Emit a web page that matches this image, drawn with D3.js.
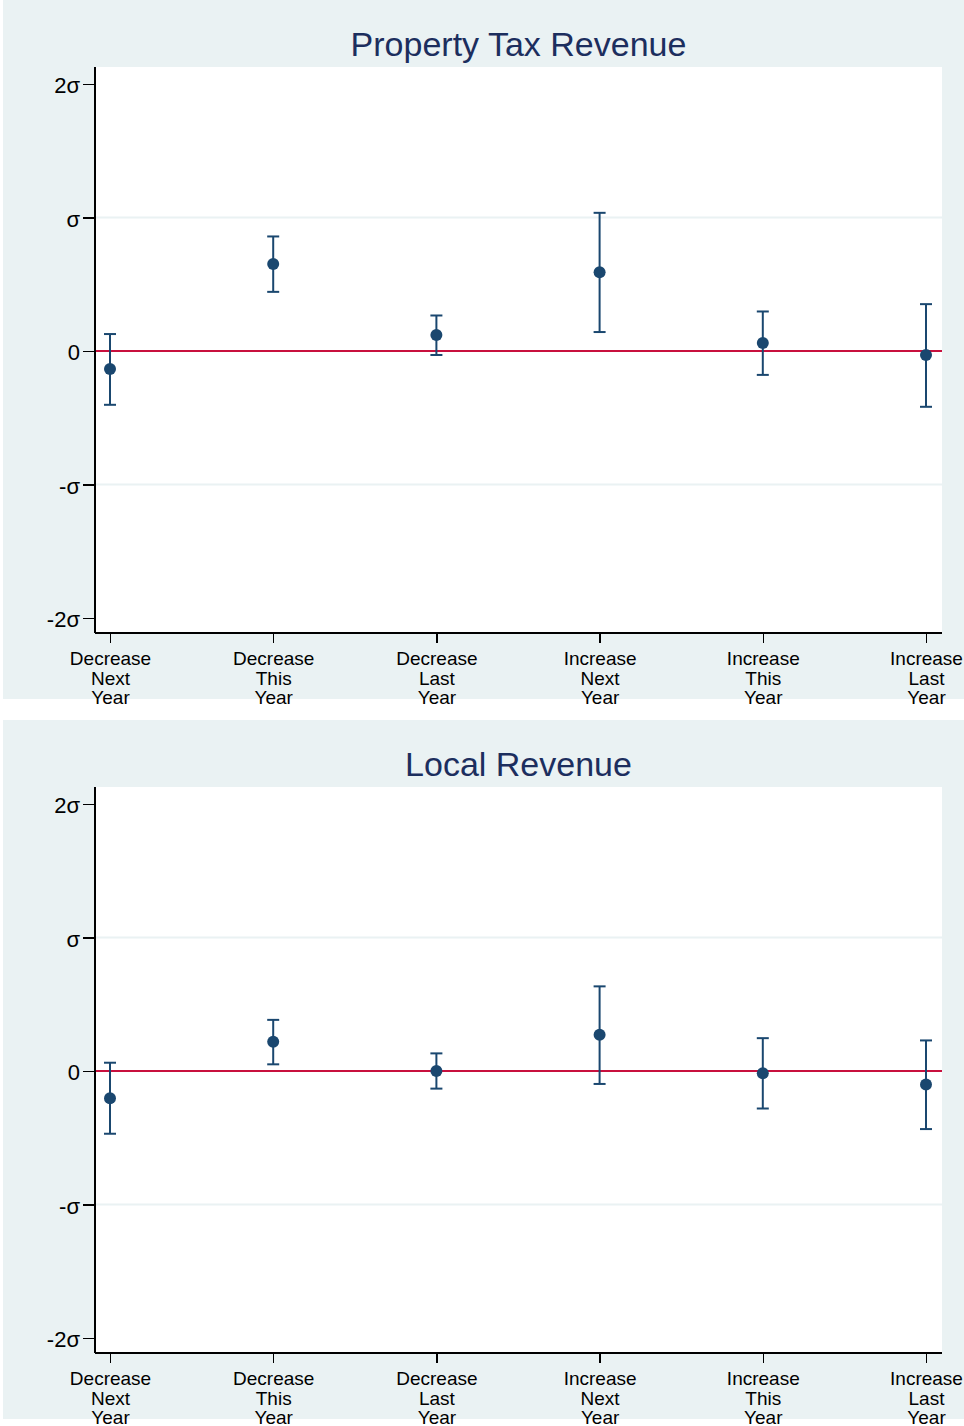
<!DOCTYPE html>
<html lang="en">
<head>
<meta charset="UTF-8">
<title>Property Tax Revenue / Local Revenue</title>
<style>
  body { margin: 0; background: #ffffff; font-family: "Liberation Sans", Arial, Helvetica, sans-serif; }
  svg { display: block; }
  .axis path, .axis line { stroke: #000; stroke-width: 1.5; shape-rendering: crispEdges; }
  .axis text { fill: #000; font-family: "Liberation Sans", Arial, sans-serif; }
</style>
</head>
<body>
<div id="chart"></div>
<script src="https://d3js.org/d3.v7.min.js"></script>
<script>
// categories (x axis)
const categories = [
  "Decrease Next Year", "Decrease This Year", "Decrease Last Year",
  "Increase Next Year", "Increase This Year", "Increase Last Year"
];

// y ticks, in standard deviations
const yTickValues = [-2, -1, 0, 1, 2];
const yTickLabels = ["-2σ", "-σ", "0", "σ", "2σ"];

// panel 1: Property Tax Revenue
const propTaxPoint = [-0.134, 0.651, 0.119, 0.590, 0.060, -0.030];
const propTaxLower = [-0.403, 0.443, -0.030, 0.142, -0.179, -0.418];
const propTaxUpper = [0.127, 0.858, 0.266, 1.035, 0.296, 0.351];

// panel 2: Local Revenue
const localPoint = [-0.204, 0.219, 0.000, 0.271, -0.017, -0.102];
const localLower = [-0.470, 0.050, -0.132, -0.097, -0.281, -0.435];
const localUpper = [0.062, 0.383, 0.132, 0.634, 0.246, 0.229];

const panels = [
  { title: "Property Tax Revenue", point: propTaxPoint, lower: propTaxLower, upper: propTaxUpper },
  { title: "Local Revenue", point: localPoint, lower: localLower, upper: localUpper }
];

const W = 964, H = 1426;
const panelH = 720;
const plot = { left: 95, right: 942, top: 67, bottom: 633 };

const navy = "#1a476f";
const bg = "#eaf2f3";

const svg = d3.select("#chart").append("svg")
  .attr("width", W).attr("height", H);

const x = d3.scalePoint()
  .domain(categories)
  .range([110, 926]);

const y = d3.scaleLinear()
  .domain([-2, 2])
  .range([618, 84]);

panels.forEach((p, i) => {
  const g = svg.append("g").attr("transform", `translate(0,${i * panelH})`);

  // outer background
  g.append("rect")
    .attr("x", 3).attr("y", 0)
    .attr("width", W - 3).attr("height", 699)
    .attr("fill", bg);

  // plot region
  g.append("rect")
    .attr("x", plot.left).attr("y", plot.top)
    .attr("width", plot.right - plot.left).attr("height", plot.bottom - plot.top)
    .attr("fill", "#fff");

  // gridlines
  g.selectAll(".grid")
    .data(yTickValues.filter(v => Math.abs(v) === 1))
    .join("line")
      .attr("x1", plot.left).attr("x2", plot.right)
      .attr("y1", d => y(d)).attr("y2", d => y(d))
      .attr("stroke", bg).attr("stroke-width", 2);

  // zero line
  g.append("line")
    .attr("x1", plot.left).attr("x2", plot.right)
    .attr("y1", y(0)).attr("y2", y(0))
    .attr("stroke", "#c8103e").attr("stroke-width", 2);

  // title
  g.append("text")
    .attr("x", (plot.left + plot.right) / 2)
    .attr("y", 56)
    .attr("text-anchor", "middle")
    .attr("font-size", 34)
    .attr("fill", "#1c2e5e")
    .text(p.title);

  // y axis
  const yAxis = g.append("g")
    .attr("class", "axis")
    .attr("transform", `translate(${plot.left},0)`)
    .call(d3.axisLeft(y)
      .tickValues(yTickValues)
      .tickFormat((d, k) => yTickLabels[k])
      .tickSize(12)
      .tickPadding(3));
  yAxis.select(".domain").attr("d", `M0,${plot.top}V${plot.bottom}`);
  yAxis.selectAll("text").attr("font-size", 22).attr("dy", "0.4em");

  // x axis
  const xAxis = g.append("g")
    .attr("class", "axis")
    .attr("transform", `translate(0,${plot.bottom})`)
    .call(d3.axisBottom(x).tickSize(10).tickPadding(5));
  xAxis.select(".domain").attr("d", `M${plot.left},0H${plot.right}`);
  xAxis.selectAll("text")
    .attr("font-size", 19)
    .text(null)
    .each(function(d) {
      const words = d.split(" ");
      const t = d3.select(this);
      words.forEach((w, j) => {
        t.append("tspan")
          .attr("x", 0)
          .attr("dy", j === 0 ? "0.9em" : "1.03em")
          .text(w);
      });
    });

  // error bars
  const idx = d3.range(categories.length);
  const bars = g.append("g");
  bars.selectAll(".ci")
    .data(idx)
    .join("line")
      .attr("x1", k => x(categories[k])).attr("x2", k => x(categories[k]))
      .attr("y1", k => y(p.lower[k])).attr("y2", k => y(p.upper[k]))
      .attr("stroke", navy).attr("stroke-width", 2);
  ["lower", "upper"].forEach(key => {
    bars.selectAll(".cap-" + key)
      .data(idx)
      .join("line")
        .attr("x1", k => x(categories[k]) - 6).attr("x2", k => x(categories[k]) + 6)
        .attr("y1", k => y(p[key][k])).attr("y2", k => y(p[key][k]))
        .attr("stroke", navy).attr("stroke-width", 2);
  });
  bars.selectAll("circle")
    .data(idx)
    .join("circle")
      .attr("cx", k => x(categories[k]))
      .attr("cy", k => y(p.point[k]))
      .attr("r", 6)
      .attr("fill", navy);
});
</script>
</body>
</html>
